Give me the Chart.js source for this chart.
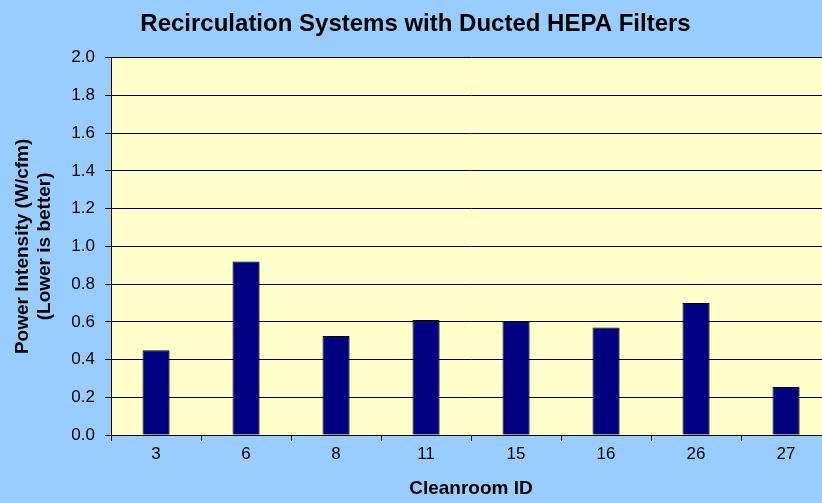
<!DOCTYPE html>
<html>
<head>
<meta charset="utf-8">
<script src="https://cdn.jsdelivr.net/npm/chart.js@4"></script>
<style>
  html, body { margin: 0; padding: 0; overflow: hidden; background: #99ccff; }
  #chart { display: block; }
</style>
</head>
<body>
<canvas id="chart" width="838" height="503"></canvas>
<script>
const categories = ["3", "6", "8", "11", "15", "16", "26", "27"];
const powerIntensity = [0.45, 0.92, 0.525, 0.61, 0.605, 0.57, 0.70, 0.255];
const yMin = 0;
const yMax = 2.0;
const yStep = 0.2;

const FONT = "'Liberation Sans', Arial, Helvetica, sans-serif";

// paints the blue chart background and the yellow plot area
const backgrounds = {
  id: "backgrounds",
  beforeDraw(chart) {
    const { ctx, chartArea: a } = chart;
    ctx.save();
    ctx.fillStyle = "#99ccff";
    ctx.fillRect(0, 0, chart.width, chart.height);
    ctx.fillStyle = "#ffffcc";
    ctx.fillRect(a.left, a.top, a.right - a.left, a.bottom - a.top);
    ctx.restore();
  }
};

// small grey drop shadow under the bars, like the old Excel look
const barShadow = {
  id: "barShadow",
  beforeDatasetsDraw(chart) {
    const ctx = chart.ctx;
    ctx.save();
    ctx.shadowColor = "rgba(0,0,0,0.35)";
    ctx.shadowOffsetX = 2;
    ctx.shadowOffsetY = 1;
    ctx.shadowBlur = 0;
  },
  afterDatasetsDraw(chart) {
    chart.ctx.restore();
  }
};

const chartCanvas = document.querySelector("#chart");

const hepaChart = new Chart(chartCanvas, {
  type: "bar",
  data: {
    labels: categories,
    datasets: [
      {
        label: "Power Intensity",
        data: powerIntensity,
        backgroundColor: "#000080",
        borderColor: "#000000",
        borderWidth: 1,
        barPercentage: 0.3,
        categoryPercentage: 1.0
      }
    ]
  },
  options: {
    responsive: false,
    animation: false,
    devicePixelRatio: 1,
    layout: { padding: { left: 0, right: 7, top: 0, bottom: 0 } },
    plugins: {
      legend: { display: false },
      tooltip: { enabled: false },
      title: {
        display: true,
        text: "Recirculation Systems with Ducted HEPA Filters",
        color: "#000",
        font: { family: FONT, size: 24, weight: "bold" },
        padding: { top: 10, bottom: 19 }
      }
    },
    scales: {
      x: {
        grid: {
          drawOnChartArea: false,
          drawTicks: true,
          tickLength: 6,
          color: "#000"
        },
        border: { color: "#000", width: 1 },
        ticks: {
          color: "#000",
          padding: 3,
          font: { family: FONT, size: 17 }
        },
        title: {
          display: true,
          text: "Cleanroom ID",
          color: "#000",
          font: { family: FONT, size: 19, weight: "bold" },
          padding: { top: 0, bottom: 3 }
        },
        afterFit(scale) { scale.height = 68; }
      },
      y: {
        min: yMin,
        max: yMax,
        grid: {
          color: "#000",
          tickLength: 6
        },
        border: { color: "#000", width: 1 },
        ticks: {
          stepSize: yStep,
          color: "#000",
          padding: 10,
          font: { family: FONT, size: 17 },
          callback: (v) => Number(v).toFixed(1)
        },
        title: {
          display: true,
          text: ["Power Intensity (W/cfm)", "(Lower is better)"],
          color: "#000",
          font: { family: FONT, size: 19, weight: "bold" },
          padding: { top: 11, bottom: 0 }
        },
        afterFit(scale) { scale.width = 111; }
      }
    }
  },
  plugins: [backgrounds, barShadow]
});
</script>
</body>
</html>
